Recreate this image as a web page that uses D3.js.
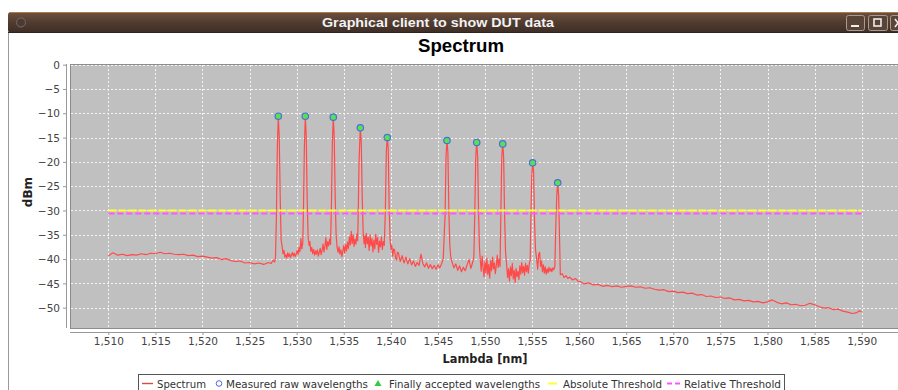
<!DOCTYPE html>
<html>
<head>
<meta charset="utf-8">
<script src="https://cdnjs.cloudflare.com/ajax/libs/d3/7.8.5/d3.min.js"></script>
<style>
  html, body { margin: 0; padding: 0; background: #fff; }
  svg { display: block; }
  .tick text { font-family: "DejaVu Sans", sans-serif; font-size: 10.5px; fill: #444; }
</style>
</head>
<body>
<div id="chart"></div>
<script>
// ---- data ----
var xTickValues = d3.range(1510, 1591, 5);
var yTickValues = d3.range(0, -51, -5);

// detected peaks: wavelength [nm] and power [dBm]
var peakLambda = [1528.05, 1530.92, 1533.89, 1536.76, 1539.62, 1545.96, 1549.12, 1551.88, 1555.06, 1557.72];
var peakDbm    = [-10.6, -10.6, -10.8, -13.0, -15.0, -15.6, -16.0, -16.3, -20.2, -24.3];

var absoluteThreshold = -30.0;
var relativeThreshold = -30.6;
var thresholdRange = [1510, 1590];

var legendLabels = ["Spectrum", "Measured raw wavelengths", "Finally accepted wavelengths", "Absolute Threshold", "Relative Threshold"];

// spectrum [lambda, dBm]
var spectrum = [
  [1510.0,-39.3],[1510.5,-38.7],[1511.0,-39.2],[1511.5,-39.0],[1512.0,-39.3],[1512.5,-39.1],[1513.0,-39.2],[1513.5,-38.9],
  [1514.0,-39.1],[1514.5,-38.8],[1515.0,-38.9],[1515.5,-38.6],[1516.0,-38.9],[1516.5,-38.8],[1517.0,-39.0],[1517.5,-39.1],
  [1518.0,-39.0],[1518.5,-39.3],[1519.0,-39.2],[1519.5,-39.5],[1520.0,-39.4],[1520.5,-39.6],[1521.0,-39.8],[1521.5,-39.7],
  [1522.0,-40.1],[1522.5,-39.9],[1523.0,-40.3],[1523.5,-40.5],[1524.0,-40.4],[1524.5,-40.8],[1525.0,-40.7],[1525.5,-41.0],
  [1526.0,-40.8],[1526.5,-41.1],[1527.0,-40.7],[1527.3,-40.9],[1527.5,-40.2],[1527.65,-40.6],
  // peak 1
  [1527.75,-39.8],[1527.85,-31],[1527.95,-17],[1528.05,-10.6],[1528.15,-15],[1528.25,-27],[1528.35,-36.1],[1528.45,-37.3],
  [1528.55,-38.9],[1528.65,-38.2],[1528.75,-39.6],[1528.85,-39.1],[1528.95,-39.8],[1529.05,-38.7],[1529.15,-39.5],[1529.25,-38.9],
  [1529.35,-39.7],[1529.45,-39.2],[1529.55,-38.6],[1529.65,-39.4],[1529.75,-38.8],[1529.85,-39.5],[1529.95,-39.0],[1530.05,-38.2],
  [1530.15,-39.1],[1530.25,-37.6],[1530.35,-38.5],[1530.45,-35.8],[1530.55,-37.9],[1530.65,-36.6],
  // peak 2
  [1530.72,-30],[1530.82,-17],[1530.92,-10.6],[1531.02,-15],[1531.12,-28],[1531.22,-35.5],[1531.32,-37.2],
  [1531.4,-36.4],[1531.5,-38.4],[1531.6,-37.6],[1531.7,-38.9],[1531.8,-38.0],[1531.9,-39.2],[1532.0,-38.3],[1532.1,-39.0],
  [1532.2,-38.1],[1532.3,-39.4],[1532.4,-38.6],[1532.5,-37.8],[1532.6,-39.1],[1532.7,-38.2],[1532.8,-36.9],[1532.9,-38.5],
  [1533.0,-37.4],[1533.1,-35.6],[1533.2,-38.0],[1533.3,-36.4],[1533.4,-37.3],[1533.5,-35.9],[1533.6,-37.0],
  // peak 3
  [1533.69,-29],[1533.79,-16],[1533.89,-10.8],[1533.99,-15],[1534.09,-27],[1534.19,-35],[1534.29,-37.5],
  [1534.4,-38.6],[1534.5,-37.5],[1534.6,-39.0],[1534.7,-38.1],[1534.8,-39.5],[1534.9,-38.4],[1535.0,-37.2],[1535.1,-38.8],
  [1535.2,-37.0],[1535.3,-38.3],[1535.4,-36.5],[1535.5,-37.8],[1535.6,-35.4],[1535.7,-37.1],[1535.8,-34.3],[1535.9,-36.8],
  [1536.0,-35.0],[1536.1,-37.4],[1536.2,-35.9],[1536.3,-36.9],[1536.4,-34.8],[1536.48,-36.2],
  // peak 4
  [1536.56,-28],[1536.62,-20.5],[1536.66,-18],[1536.76,-13.0],[1536.86,-16],[1536.96,-27],[1537.06,-34.5],[1537.16,-36.8],
  [1537.25,-35.2],[1537.3,-37.6],[1537.4,-34.7],[1537.5,-36.9],[1537.6,-35.5],[1537.7,-38.2],[1537.8,-35.0],[1537.9,-37.3],
  [1538.0,-35.8],[1538.1,-38.5],[1538.2,-36.1],[1538.3,-37.9],[1538.4,-34.9],[1538.5,-37.0],[1538.6,-35.6],[1538.7,-38.6],
  [1538.8,-36.3],[1538.9,-37.5],[1539.0,-35.4],[1539.1,-38.0],[1539.2,-36.4],[1539.3,-37.2],
  // peak 5
  [1539.42,-30],[1539.52,-18],[1539.62,-15.0],[1539.72,-17],[1539.82,-29],[1539.92,-36],[1540.02,-38],
  [1540.1,-37.2],[1540.2,-39.4],[1540.3,-37.9],[1540.4,-38.1],[1540.5,-39.8],[1540.6,-40.2],[1540.7,-38.6],[1540.8,-38.7],
  [1541.0,-40.5],[1541.2,-39.3],[1541.4,-40.8],[1541.6,-39.6],[1541.8,-41.0],[1542.0,-39.9],[1542.2,-41.2],[1542.4,-40.4],
  [1542.6,-41.5],[1542.8,-40.7],[1543.0,-41.3],[1543.2,-39.0],[1543.4,-40.9],[1543.6,-41.6],[1543.8,-40.8],[1544.0,-41.9],
  [1544.2,-41.1],[1544.4,-42.0],[1544.6,-41.3],[1544.8,-42.1],[1545.0,-41.2],[1545.2,-41.8],[1545.4,-40.9],[1545.56,-40.0],
  // peak 6
  [1545.76,-31],[1545.86,-19],[1545.96,-15.6],[1546.06,-18],[1546.16,-30],[1546.26,-37],[1546.36,-39.5],
  [1546.5,-40.6],[1546.7,-41.8],[1546.9,-41.0],[1547.1,-42.3],[1547.3,-41.4],[1547.5,-42.6],[1547.7,-41.7],[1547.9,-42.4],
  [1548.1,-41.2],[1548.3,-40.1],[1548.5,-41.9],[1548.7,-40.6],[1548.82,-39.5],
  // peak 7
  [1548.92,-30],[1549.02,-19],[1549.12,-16.0],[1549.22,-19],[1549.32,-31],[1549.42,-38],
  [1549.5,-40.2],[1549.6,-42.5],[1549.7,-39.4],[1549.8,-41.8],[1549.9,-43.6],[1550.0,-40.5],[1550.1,-42.9],[1550.2,-39.8],
  [1550.3,-43.2],[1550.4,-41.1],[1550.5,-43.9],[1550.6,-40.3],[1550.7,-42.4],[1550.8,-39.6],[1550.9,-42.0],[1551.0,-40.8],
  [1551.1,-43.0],[1551.2,-41.3],[1551.3,-39.2],[1551.4,-41.7],[1551.5,-40.0],[1551.6,-41.5],
  // peak 8
  [1551.68,-31],[1551.78,-19],[1551.88,-16.3],[1551.98,-19],[1552.08,-31],[1552.18,-38.5],
  [1552.3,-41.2],[1552.4,-43.8],[1552.5,-42.0],[1552.6,-44.5],[1552.7,-41.6],[1552.8,-43.4],[1552.9,-40.9],[1553.0,-44.1],
  [1553.1,-42.3],[1553.2,-44.8],[1553.3,-41.9],[1553.4,-43.6],[1553.5,-42.5],[1553.6,-44.2],[1553.7,-41.4],[1553.8,-43.1],
  [1553.9,-40.7],[1554.0,-42.8],[1554.1,-41.5],[1554.2,-43.3],[1554.3,-40.9],[1554.4,-42.6],[1554.5,-41.3],[1554.6,-42.9],
  [1554.7,-41.0],[1554.8,-40.2],
  // peak 9
  [1554.86,-33],[1554.96,-23],[1555.06,-20.2],[1555.16,-22],[1555.26,-32],[1555.36,-38],
  [1555.5,-40.3],[1555.6,-42.1],[1555.7,-39.0],[1555.8,-38.6],[1555.9,-41.5],[1556.0,-40.4],[1556.1,-42.6],[1556.2,-41.2],
  [1556.3,-42.9],[1556.4,-41.6],[1556.5,-43.1],[1556.6,-42.0],[1556.7,-42.8],[1556.8,-41.7],[1556.9,-42.5],[1557.0,-41.9],
  [1557.1,-42.6],[1557.2,-41.8],[1557.3,-42.2],[1557.42,-41.5],
  // peak 10
  [1557.52,-33],[1557.62,-27],[1557.72,-24.3],[1557.82,-27],[1557.92,-36],[1558.0,-43.2],
  [1558.2,-43.0],[1558.4,-43.8],[1558.6,-43.4],[1558.8,-44.0],[1559.0,-43.7],[1559.3,-44.3],[1559.6,-44.0],[1559.9,-44.6],
  [1560.2,-44.7],[1560.5,-45.1],[1561.0,-44.9],[1561.5,-45.3],[1562.0,-45.2],[1562.5,-45.6],[1563.0,-45.4],[1563.5,-45.7],
  [1564.0,-45.5],[1564.5,-45.8],[1565.0,-45.6],[1565.5,-45.5],[1566.0,-45.8],[1566.5,-45.7],[1567.0,-46.0],[1567.5,-45.9],
  [1568.0,-46.2],[1568.5,-46.4],[1569.0,-46.3],[1569.5,-46.7],[1570.0,-46.6],[1570.5,-46.9],[1571.0,-46.8],[1571.5,-47.1],
  [1572.0,-47.0],[1572.5,-47.4],[1573.0,-47.3],[1573.5,-47.7],[1574.0,-47.6],[1574.5,-47.9],[1575.0,-47.8],[1575.5,-48.1],
  [1576.0,-48.0],[1576.5,-48.4],[1577.0,-48.3],[1577.5,-48.6],[1578.0,-48.5],[1578.5,-48.8],[1579.0,-48.7],[1579.5,-49.0],
  [1580.0,-48.8],[1580.5,-48.4],[1581.0,-48.9],[1581.5,-49.2],[1582.0,-49.0],[1582.5,-49.4],[1583.0,-49.3],[1583.5,-49.6],
  [1584.0,-49.5],[1584.5,-49.1],[1585.0,-49.4],[1585.5,-49.8],[1586.0,-50.1],[1586.5,-50.0],[1587.0,-50.4],[1587.5,-50.3],
  [1588.0,-50.7],[1588.5,-50.9],[1589.0,-51.2],[1589.5,-51.0],[1589.8,-50.6],[1590.0,-50.9]
];

// ---- layout ----
var W = 898, H = 390;
var plot = {left: 70, top: 64, right: 900, bottom: 328};

var svg = d3.select("#chart").append("svg")
    .attr("width", W)
    .attr("height", H);

var defs = svg.append("defs");
var grad = defs.append("linearGradient").attr("id", "titlebar").attr("x1", 0).attr("y1", 0).attr("x2", 0).attr("y2", 1);
grad.append("stop").attr("offset", "0%").attr("stop-color", "#6e5140");
grad.append("stop").attr("offset", "45%").attr("stop-color", "#533d31");
grad.append("stop").attr("offset", "100%").attr("stop-color", "#3d2d25");

defs.append("clipPath").attr("id", "plotclip")
  .append("rect")
    .attr("x", plot.left).attr("y", plot.top)
    .attr("width", plot.right - plot.left).attr("height", plot.bottom - plot.top);

// window frame
svg.append("rect").attr("x", 0).attr("y", 0).attr("width", W).attr("height", H).attr("fill", "#fff");
svg.append("rect").attr("x", 8).attr("y", 12).attr("width", W).attr("height", 21).attr("rx", 3)
    .attr("fill", "url(#titlebar)");
svg.append("line").attr("x1", 10).attr("x2", W).attr("y1", 12.5).attr("y2", 12.5)
    .attr("stroke", "#b07a45").attr("stroke-width", 1);
svg.append("line").attr("x1", 8).attr("x2", W).attr("y1", 32.5).attr("y2", 32.5)
    .attr("stroke", "#2e221c").attr("stroke-width", 1);
svg.append("line").attr("x1", 8.5).attr("x2", 8.5).attr("y1", 33).attr("y2", H)
    .attr("stroke", "#9a9a9a").attr("stroke-width", 1);
svg.append("circle").attr("cx", 21).attr("cy", 22.5).attr("r", 4.5)
    .attr("fill", "#4a3a33").attr("stroke", "#7a6a62").attr("stroke-width", 1);

svg.append("text")
    .attr("x", 438).attr("y", 27)
    .attr("text-anchor", "middle")
    .attr("font-family", "Liberation Sans, Arial, sans-serif")
    .attr("font-weight", "bold").attr("font-size", 13)
    .attr("fill", "#f2f2f2")
    .attr("textLength", 232).attr("lengthAdjust", "spacingAndGlyphs")
    .text("Graphical client to show DUT data");

// window buttons
var btns = [{x: 846, w: 18}, {x: 868, w: 19}, {x: 890, w: 18}];
btns.forEach(function(b) {
    svg.append("rect").attr("x", b.x + 0.5).attr("y", 15.5).attr("width", b.w).attr("height", 15).attr("rx", 2)
        .attr("fill", "#5a4438").attr("stroke", "#a99a90").attr("stroke-width", 1);
});
svg.append("line").attr("x1", 851).attr("x2", 859).attr("y1", 26).attr("y2", 26).attr("stroke", "#eee").attr("stroke-width", 2);
svg.append("rect").attr("x", 874).attr("y", 19).attr("width", 7).attr("height", 7)
    .attr("fill", "none").attr("stroke", "#eee").attr("stroke-width", 1.6);
svg.append("path").attr("d", "M895,19L901,27M901,19L895,27").attr("stroke", "#eee").attr("stroke-width", 1.6);

// chart title
svg.append("text")
    .attr("x", 461).attr("y", 52)
    .attr("text-anchor", "middle")
    .attr("font-family", "Liberation Sans, Arial, sans-serif")
    .attr("font-weight", "bold").attr("font-size", 18)
    .attr("fill", "#000")
    .attr("textLength", 86).attr("lengthAdjust", "spacingAndGlyphs")
    .text("Spectrum");

// ---- scales ----
var x = d3.scaleLinear().domain([1505.93, 1594.07]).range([plot.left, plot.right]);
var y = d3.scaleLinear().domain([-54.18, 0.14]).range([plot.bottom, plot.top]);

// plot background
svg.append("rect")
    .attr("x", plot.left + 0.5).attr("y", plot.top + 0.5)
    .attr("width", plot.right - plot.left).attr("height", plot.bottom - plot.top)
    .attr("fill", "#c0c0c0").attr("stroke", "#8c8c8c").attr("stroke-width", 1);

// gridlines
var grid = svg.append("g").attr("class", "grid");
grid.selectAll("line.v").data(xTickValues).enter().append("line")
    .attr("x1", d => Math.round(x(d)) + 0.5).attr("x2", d => Math.round(x(d)) + 0.5)
    .attr("y1", plot.top + 1).attr("y2", plot.bottom)
    .attr("stroke", "#f4f4f4").attr("stroke-width", 1).attr("stroke-dasharray", "2,2");
grid.selectAll("line.h").data(yTickValues).enter().append("line")
    .attr("y1", d => Math.round(y(d)) + 0.5).attr("y2", d => Math.round(y(d)) + 0.5)
    .attr("x1", plot.left + 1).attr("x2", plot.right)
    .attr("stroke", "#f4f4f4").attr("stroke-width", 1).attr("stroke-dasharray", "2,2");

// axes
var xAxis = d3.axisBottom(x)
    .tickValues(xTickValues)
    .tickFormat(d3.format(","))
    .tickSizeInner(3).tickSizeOuter(0).tickPadding(3);

var yAxis = d3.axisLeft(y)
    .tickValues(yTickValues)
    .tickFormat(d3.format("d"))
    .tickSizeInner(3).tickSizeOuter(0).tickPadding(3);

var gx = svg.append("g")
    .attr("class", "axis axis--x")
    .attr("transform", "translate(0,332)")
    .call(xAxis);
gx.select(".domain").attr("stroke", "#999").attr("d", "M" + plot.left + ",0.5H" + plot.right);
gx.selectAll(".tick line").attr("stroke", "#999");

var gy = svg.append("g")
    .attr("class", "axis axis--y")
    .attr("transform", "translate(66,0)")
    .call(yAxis);
gy.select(".domain").attr("stroke", "#999").attr("d", "M0.5," + plot.top + "V" + plot.bottom);
gy.selectAll(".tick line").attr("stroke", "#999");
gy.selectAll(".tick text").attr("dy", "0.35em");

// axis labels
svg.append("text")
    .attr("x", 485).attr("y", 363)
    .attr("text-anchor", "middle")
    .attr("font-family", "DejaVu Sans, sans-serif")
    .attr("font-weight", "bold").attr("font-size", 12)
    .attr("fill", "#222")
    .attr("textLength", 85).attr("lengthAdjust", "spacingAndGlyphs")
    .text("Lambda [nm]");

svg.append("text")
    .attr("transform", "translate(32,192) rotate(-90)")
    .attr("text-anchor", "middle")
    .attr("font-family", "DejaVu Sans, sans-serif")
    .attr("font-weight", "bold").attr("font-size", 12)
    .attr("fill", "#222")
    .text("dBm");

// ---- series ----
var series = svg.append("g").attr("clip-path", "url(#plotclip)");

var lineGen = d3.line()
    .x(d => x(d[0]))
    .y(d => y(d[1]))
    .curve(d3.curveLinear);

series.append("path")
    .datum(spectrum)
    .attr("d", lineGen)
    .attr("fill", "none")
    .attr("stroke", "#ff4a4a")
    .attr("stroke-width", 1.2)
    .attr("stroke-linejoin", "round");

// thresholds
series.append("line")
    .attr("x1", x(thresholdRange[0])).attr("x2", x(thresholdRange[1]))
    .attr("y1", y(absoluteThreshold)).attr("y2", y(absoluteThreshold))
    .attr("stroke", "#ffff33").attr("stroke-width", 2).attr("stroke-dasharray", "8,2");
series.append("line")
    .attr("x1", x(thresholdRange[0])).attr("x2", x(thresholdRange[1]))
    .attr("y1", y(relativeThreshold)).attr("y2", y(relativeThreshold))
    .attr("stroke", "#ff55ff").attr("stroke-width", 2).attr("stroke-dasharray", "6,3");

// peak markers
series.selectAll("circle.peak")
    .data(peakLambda)
    .enter().append("circle")
    .attr("class", "peak")
    .attr("cx", d => x(d))
    .attr("cy", (d, i) => y(peakDbm[i]))
    .attr("r", 3.2)
    .attr("fill", "#55e055")
    .attr("stroke", "#4a6fd8")
    .attr("stroke-width", 1.2);

// ---- legend ----
var lg = svg.append("g").attr("class", "legend");
lg.append("rect")
    .attr("x", 138.5).attr("y", 374.5).attr("width", 646).attr("height", 22)
    .attr("fill", "#fff").attr("stroke", "#555").attr("stroke-width", 1);

var ly = 383.5;
var textX = [157, 226, 389, 563, 684];
var textW = [49, 142, 151, 99, 97];

lg.append("line").attr("x1", 142).attr("x2", 153).attr("y1", ly).attr("y2", ly)
    .attr("stroke", "#e04848").attr("stroke-width", 1.4);
lg.append("circle").attr("cx", 219).attr("cy", ly).attr("r", 2.8)
    .attr("fill", "none").attr("stroke", "#5566dd").attr("stroke-width", 1);
lg.append("path").attr("d", d3.symbol().type(d3.symbolTriangle).size(22)())
    .attr("transform", "translate(378," + (ly + 0.5) + ")")
    .attr("fill", "#33cc44");
lg.append("line").attr("x1", 548).attr("x2", 557).attr("y1", ly).attr("y2", ly)
    .attr("stroke", "#ffff33").attr("stroke-width", 2);
lg.append("line").attr("x1", 667).attr("x2", 680).attr("y1", ly).attr("y2", ly)
    .attr("stroke", "#ff55ff").attr("stroke-width", 2).attr("stroke-dasharray", "5,3");

lg.selectAll("text.item")
    .data(legendLabels)
    .enter().append("text")
    .attr("class", "item")
    .attr("x", (d, i) => textX[i])
    .attr("y", ly + 4)
    .attr("font-family", "DejaVu Sans, sans-serif")
    .attr("font-size", 11)
    .attr("fill", "#333")
    .attr("textLength", (d, i) => textW[i])
    .attr("lengthAdjust", "spacingAndGlyphs")
    .text(d => d);
</script>
</body>
</html>
